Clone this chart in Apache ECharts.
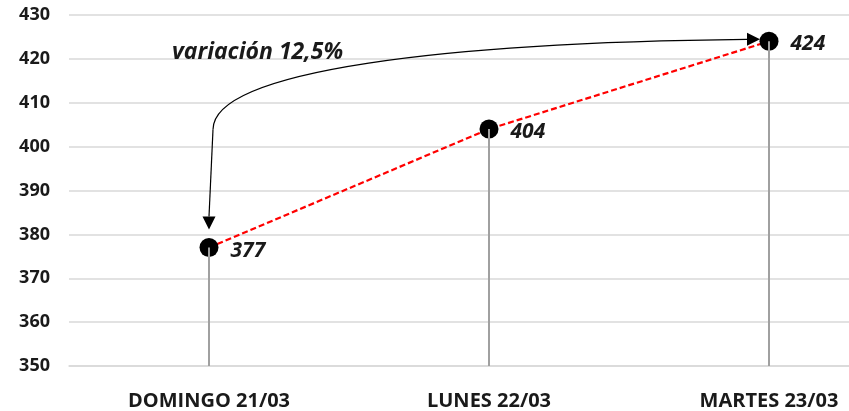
<!DOCTYPE html>
<html>
<head>
<meta charset="utf-8">
<script src="https://cdn.jsdelivr.net/npm/echarts@6/dist/echarts.min.js"></script>
<style>
html,body{margin:0;padding:0;background:#fff;}
#chart{width:849px;height:411px;}
</style>
</head>
<body>
<div id="chart"></div>
<script>
const categories = ['DOMINGO 21/03', 'LUNES 22/03', 'MARTES 23/03'];
const values = [377, 404, 424];
const yMin = 350, yMax = 430, yStep = 10;
const annotationText = 'variación 12,5%';

const FONT = '"Open Sans", Lato, sans-serif';
const chart = echarts.init(document.getElementById('chart'), null, {renderer: 'canvas'});

const option = {
  animation: false,
  backgroundColor: '#ffffff',
  grid: {left: 69, right: -60, top: 15, bottom: 45, containLabel: false, outerBoundsMode: 'none'},
  xAxis: {
    type: 'category',
    data: categories,
    boundaryGap: true,
    axisLine: {show: true, lineStyle: {color: '#d9d9d9', width: 1.5}},
    axisTick: {show: false},
    axisLabel: {color: '#1a1a1a', fontFamily: FONT, fontWeight: 'bold', fontSize: 20, margin: 25}
  },
  yAxis: {
    type: 'value',
    min: yMin, max: yMax, interval: yStep,
    axisLine: {show: false},
    axisTick: {show: false},
    splitLine: {show: true, lineStyle: {color: '#d9d9d9', width: 1.5}},
    axisLabel: {color: '#1a1a1a', fontFamily: FONT, fontWeight: 'bold', fontSize: 18, margin: 19}
  },
  series: [
    {
      type: 'line',
      data: values,
      symbol: 'circle',
      symbolSize: 19,
      itemStyle: {color: '#000000'},
      lineStyle: {color: '#ff0000', type: [6, 3], width: 2.2},
      label: {
        show: true, position: 'right', distance: 12, offset: [0, 3],
        color: '#1a1a1a', fontFamily: FONT, fontWeight: 'bold', fontStyle: 'italic', fontSize: 21
      },
      z: 3
    },
    {
      type: 'bar',
      data: values,
      barWidth: 2,
      itemStyle: {color: '#a0a0a0'},
      z: 5
    }
  ]
};
chart.setOption(option);

function drawAnnotation() {
  const pL = chart.convertToPixel({gridIndex: 0}, [0, values[0]]);
  const pR = chart.convertToPixel({gridIndex: 0}, [2, values[2]]);
  const pTop = chart.convertToPixel({gridIndex: 0}, [0, yMax]);
  const headLen = 13, headHalf = 6.5;
  const rTip = [pR[0] - 9, pR[1] - 2];
  const rBase = [rTip[0] - headLen, rTip[1]];
  const bend = [pL[0] + 4, pL[1] - 118];
  const lTip = [pL[0], pL[1] - 18];
  const lBase = [lTip[0], lTip[1] - headLen];
  chart.setOption({
    graphic: [
      {
        type: 'bezierCurve',
        shape: {x1: rBase[0], y1: rBase[1], cpx1: pL[0] + 241, cpy1: rBase[1] + 3, cpx2: bend[0], cpy2: bend[1] - 60, x2: bend[0], y2: bend[1]},
        style: {stroke: '#000', lineWidth: 1.2, fill: null},
        z: 10
      },
      {
        type: 'line',
        shape: {x1: bend[0], y1: bend[1], x2: lBase[0], y2: lBase[1]},
        style: {stroke: '#000', lineWidth: 1.2},
        z: 10
      },
      {
        type: 'polygon',
        shape: {points: [[lTip[0], lTip[1]], [lBase[0] - headHalf, lBase[1]], [lBase[0] + headHalf, lBase[1]]]},
        style: {fill: '#000'},
        z: 10
      },
      {
        type: 'polygon',
        shape: {points: [[rTip[0], rTip[1]], [rBase[0], rBase[1] - headHalf], [rBase[0], rBase[1] + headHalf]]},
        style: {fill: '#000'},
        z: 10
      },
      {
        type: 'text',
        x: pL[0] - 37, y: pTop[1] + 37,
        style: {text: annotationText, fill: '#1a1a1a', font: 'italic bold 23px ' + FONT, textVerticalAlign: 'middle'},
        z: 10
      }
    ]
  });
}
drawAnnotation();
</script>
</body>
</html>
